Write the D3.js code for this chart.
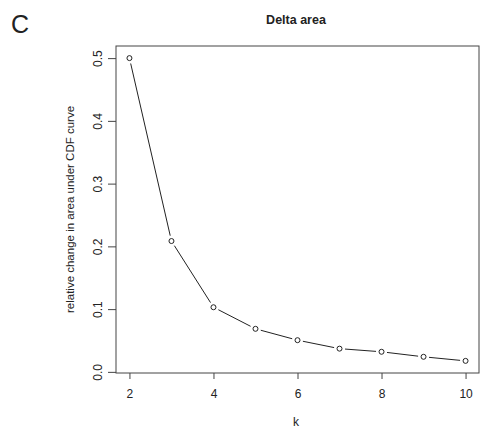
<!DOCTYPE html>
<html>
<head>
<meta charset="utf-8">
<script src="https://cdn.jsdelivr.net/npm/d3@7"></script>
<style>
  body { margin: 0; background: #fff; }
  text { font-family: "Liberation Sans", Arial, sans-serif; fill: #222; }
</style>
</head>
<body>
<div id="chart"></div>
<script>
// Data
const kValues = [2, 3, 4, 5, 6, 7, 8, 9, 10];
const deltaArea = [0.5, 0.2085, 0.103, 0.0686, 0.0505, 0.037, 0.032, 0.024, 0.0175];
const xTicks = [2, 4, 6, 8, 10];
const yTicks = [0.0, 0.1, 0.2, 0.3, 0.4, 0.5];

const width = 483, height = 433;

const svg = d3.select("#chart")
    .append("svg")
    .attr("width", width)
    .attr("height", height);

// R style: axis range extended by 4% on each side
const xPad = (d3.max(kValues) - d3.min(kValues)) * 0.04;
const yPad = (d3.max(deltaArea) - d3.min(deltaArea)) * 0.04;

const x = d3.scaleLinear()
    .domain([d3.min(kValues) - xPad, d3.max(kValues) + xPad])
    .range([116, 479]);

const y = d3.scaleLinear()
    .domain([d3.min(deltaArea) - yPad, d3.max(deltaArea) + yPad])
    .range([373, 46]);

// Panel letter
svg.append("text")
    .attr("x", 11)
    .attr("y", 33)
    .style("font-size", "25px")
    .text("C");

// Title
svg.append("text")
    .attr("x", 296)
    .attr("y", 24)
    .attr("text-anchor", "middle")
    .style("font-size", "12.5px")
    .style("font-weight", "bold")
    .text("Delta area");

// Box
svg.append("rect")
    .attr("x", x.range()[0])
    .attr("y", y.range()[1])
    .attr("width", x.range()[1] - x.range()[0])
    .attr("height", y.range()[0] - y.range()[1])
    .attr("fill", "none")
    .attr("stroke", "#444")
    .attr("stroke-width", 1);

// Axes
const xAxis = svg.append("g")
    .attr("transform", `translate(0, ${y.range()[0]})`)
    .call(d3.axisBottom(x).tickValues(xTicks).tickSize(6).tickPadding(10).tickFormat(d3.format("d")));

const yAxis = svg.append("g")
    .attr("transform", `translate(${x.range()[0]}, 0)`)
    .call(d3.axisLeft(y).tickValues(yTicks).tickSize(8).tickPadding(0).tickFormat(d3.format(".1f")));

[xAxis, yAxis].forEach(a => {
    a.select(".domain").remove();
    a.selectAll(".tick line").attr("stroke", "#444");
    a.selectAll(".tick text").style("font-size", "12px").attr("fill", "#222");
});

// Rotated y tick labels (R default las = 0)
yAxis.selectAll(".tick text")
    .attr("text-anchor", "middle")
    .attr("x", 0)
    .attr("dy", 0)
    .attr("transform", "translate(-18, 0) rotate(-90)")
    .attr("y", 4);

// Axis labels
svg.append("text")
    .attr("x", 296)
    .attr("y", 426)
    .attr("text-anchor", "middle")
    .style("font-size", "12px")
    .text("k");

svg.append("text")
    .attr("transform", `translate(74, ${(y.range()[0] + y.range()[1]) / 2}) rotate(-90)`)
    .attr("text-anchor", "middle")
    .style("font-size", "11.5px")
    .text("relative change in area under CDF curve");

// Lines with gaps around points (type = "b")
const gap = 5.5;
const pts = kValues.map((k, i) => [x(k), y(deltaArea[i])]);
for (let i = 0; i < pts.length - 1; i++) {
    const [x0, y0] = pts[i], [x1, y1] = pts[i + 1];
    const len = Math.hypot(x1 - x0, y1 - y0);
    if (len <= 2 * gap) continue;
    const ux = (x1 - x0) / len, uy = (y1 - y0) / len;
    svg.append("line")
        .attr("x1", x0 + ux * gap)
        .attr("y1", y0 + uy * gap)
        .attr("x2", x1 - ux * gap)
        .attr("y2", y1 - uy * gap)
        .attr("stroke", "#222")
        .attr("stroke-width", 1);
}

// Points
svg.selectAll("circle.pt")
    .data(kValues)
    .enter()
    .append("circle")
    .attr("class", "pt")
    .attr("cx", d => x(d))
    .attr("cy", (d, i) => y(deltaArea[i]))
    .attr("r", 2.5)
    .attr("fill", "none")
    .attr("stroke", "#222")
    .attr("stroke-width", 1);
</script>
</body>
</html>
